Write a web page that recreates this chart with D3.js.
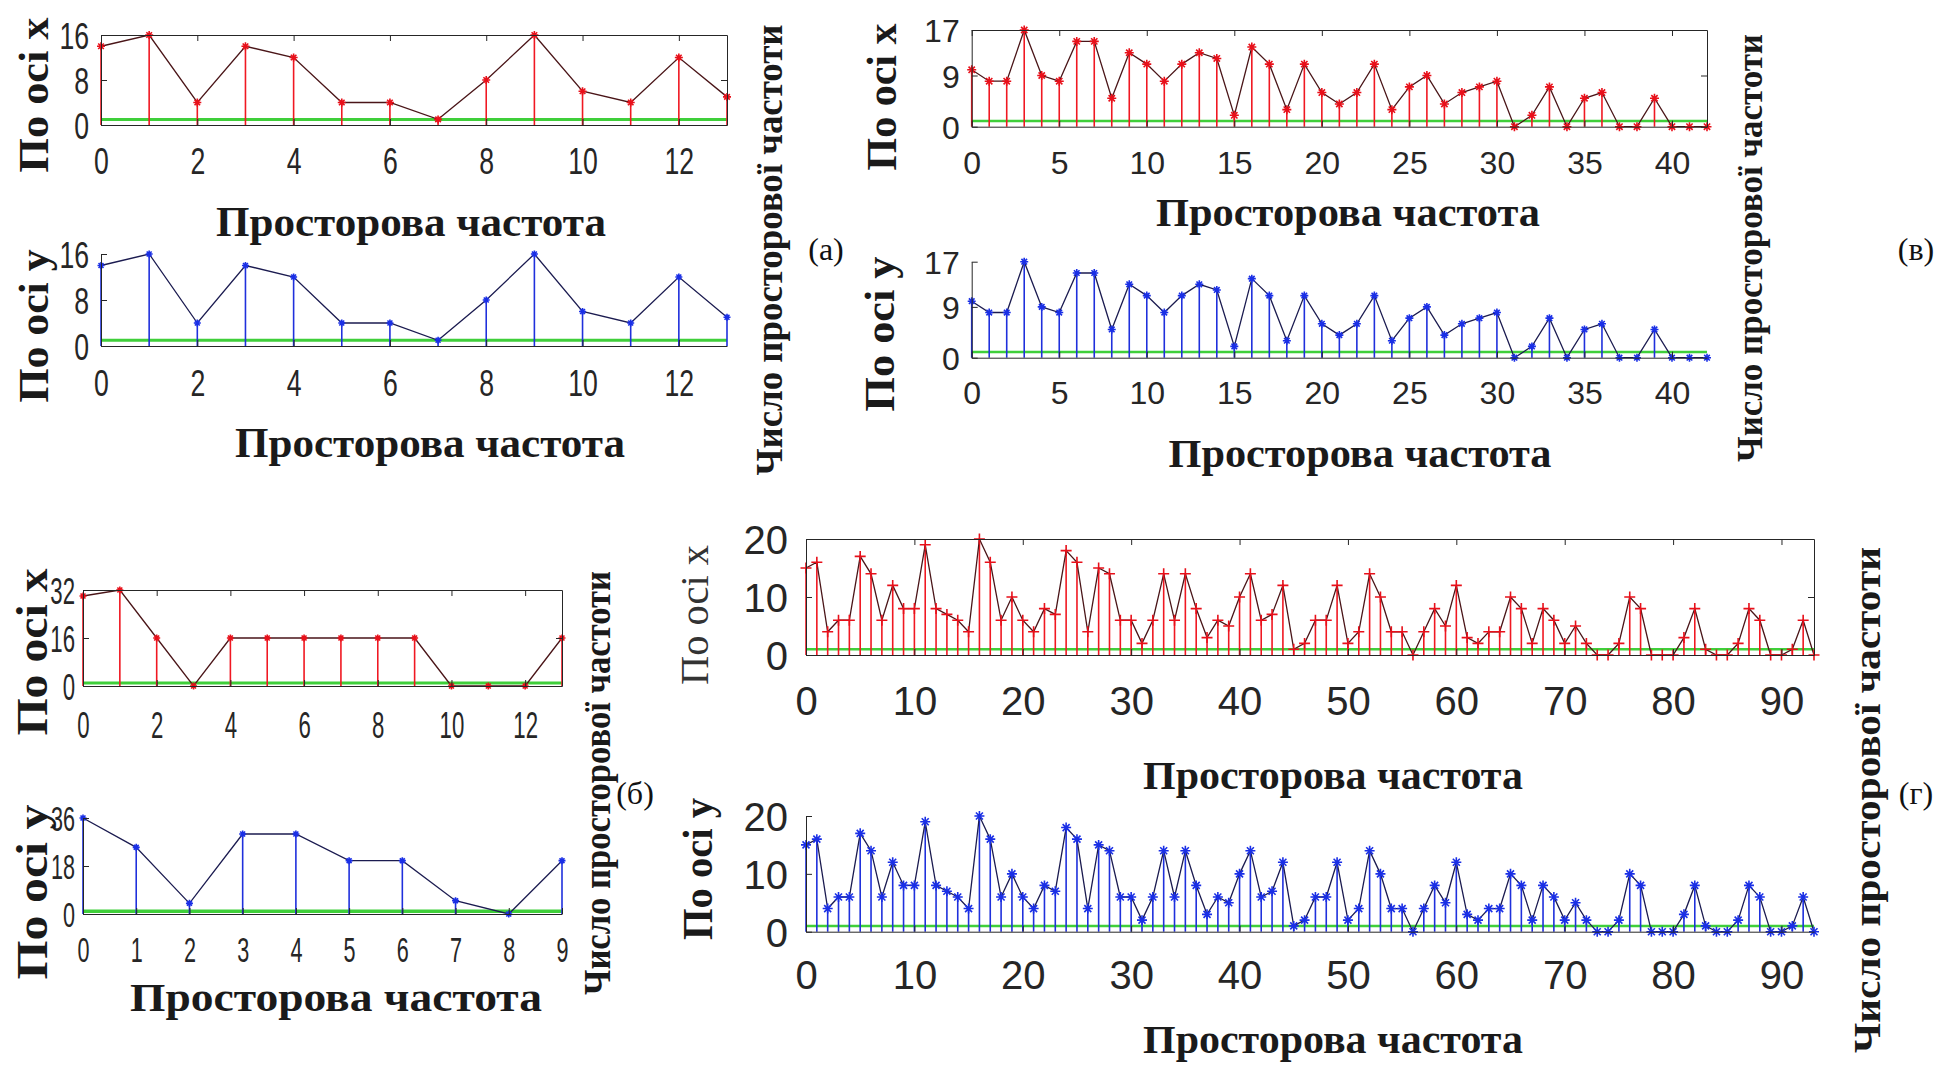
<!DOCTYPE html>
<html>
<head>
<meta charset="utf-8">
<script src="https://cdn.jsdelivr.net/npm/d3@7"></script>
<style>
  html, body { margin: 0; padding: 0; background: #fff; }
  svg { display: block; }
</style>
</head>
<body>
<svg id="fig" width="1939" height="1065"></svg>
<script>
// ---- spectra: number of components per spatial frequency ----
// (а) 14 frequencies
const aSpecX = [14, 16, 4, 14, 12, 4, 4, 1, 8, 16, 6, 4, 12, 5];
const aSpecY = [14, 16, 4, 14, 12, 4, 4, 1, 8, 16, 6, 4, 12, 5];
const aTicksX = [0, 2, 4, 6, 8, 10, 12];
const aTicksY = [0, 8, 16];

// (б) 14 frequencies along x, 10 along y
const bSpecX = [30, 32, 16, 0, 16, 16, 16, 16, 16, 16, 0, 0, 0, 16];
const bSpecY = [36, 25, 4, 30, 30, 20, 20, 5, 0, 20];
const bTicksX1 = [0, 2, 4, 6, 8, 10, 12];
const bTicksX2 = [0, 1, 2, 3, 4, 5, 6, 7, 8, 9];
const bTicksY1 = [0, 16, 32];
const bTicksY2 = [0, 18, 36];

// (в) 43 frequencies
const vSpecX = [10, 8, 8, 17, 9, 8, 15, 15, 5, 13, 11, 8, 11, 13, 12, 2, 14, 11, 3, 11,
                6, 4, 6, 11, 3, 7, 9, 4, 6, 7, 8, 0, 2, 7, 0, 5, 6, 0, 0, 5, 0, 0, 0];
const vSpecY = [10, 8, 8, 17, 9, 8, 15, 15, 5, 13, 11, 8, 11, 13, 12, 2, 14, 11, 3, 11,
                6, 4, 6, 11, 3, 7, 9, 4, 6, 7, 8, 0, 2, 7, 0, 5, 6, 0, 0, 5, 0, 0, 0];
const vTicksX = [0, 5, 10, 15, 20, 25, 30, 35, 40];
const vTicksY = [0, 9, 17];

// (г) 94 frequencies
const gSpecX = [15, 16, 4, 6, 6, 17, 14, 6, 12, 8, 8, 19, 8, 7, 6, 4, 20, 16, 6, 10,
                6, 4, 8, 7, 18, 16, 4, 15, 14, 6, 6, 2, 6, 14, 6, 14, 8, 3, 6, 5,
                10, 14, 6, 7, 12, 1, 2, 6, 6, 12, 2, 4, 14, 10, 4, 4, 0, 4, 8, 5,
                12, 3, 2, 4, 4, 10, 8, 2, 8, 6, 2, 5, 2, 0, 0, 2, 10, 8, 0, 0,
                0, 3, 8, 1, 0, 0, 2, 8, 6, 0, 0, 1, 6, 0];
const gSpecY = [15, 16, 4, 6, 6, 17, 14, 6, 12, 8, 8, 19, 8, 7, 6, 4, 20, 16, 6, 10,
                6, 4, 8, 7, 18, 16, 4, 15, 14, 6, 6, 2, 6, 14, 6, 14, 8, 3, 6, 5,
                10, 14, 6, 7, 12, 1, 2, 6, 6, 12, 2, 4, 14, 10, 4, 4, 0, 4, 8, 5,
                12, 3, 2, 4, 4, 10, 8, 2, 8, 6, 2, 5, 2, 0, 0, 2, 10, 8, 0, 0,
                0, 3, 8, 1, 0, 0, 2, 8, 6, 0, 0, 1, 6, 0];
const gTicksX = [0, 10, 20, 30, 40, 50, 60, 70, 80, 90];
const gTicksY = [0, 10, 20];

// threshold level drawn in green on every panel
const threshold = 1;

// texts
const labelX = "По осі x";
const labelY = "По осі y";
const titleX = "Просторова частота";
const sideTitle = "Число просторової частоти";
const panelLetters = ["(а)", "(б)", "(в)", "(г)"];

// ---- drawing ----
const svg = d3.select("#fig");
const AXIS = "#262626";
const GREEN = "#3fcf3a";
const RED = { stem: "#f01822", line: "#4a1518", mark: "#e8101a" };
const BLUE = { stem: "#1f30dc", line: "#1b1b50", mark: "#1a2fe6" };

function markerPath(kind, r) {
  const p = d3.path();
  p.moveTo(-r, 0); p.lineTo(r, 0);
  p.moveTo(0, -r); p.lineTo(0, r);
  if (kind === "asterisk") {
    const k = r * 0.7;
    p.moveTo(-k, -k); p.lineTo(k, k);
    p.moveTo(-k, k); p.lineTo(k, -k);
  }
  return p.toString();
}

function styleTicks(sel, p) {
  sel.select(".domain").attr("stroke", AXIS).attr("stroke-width", 1);
  sel.selectAll(".tick line").attr("stroke", AXIS).attr("stroke-width", 1);
  sel.selectAll(".tick text")
    .attr("font-family", "'Liberation Sans', Arial, sans-serif")
    .attr("font-size", p.font)
    .attr("fill", AXIS);
}

function panel(p) {
  const g = svg.append("g");
  const x = d3.scaleLinear().domain([0, p.xMax]).range([p.left, p.right]);
  const y = d3.scaleLinear().domain([0, p.yMax]).range([p.bottom, p.top]);
  const col = p.palette;
  const vals = p.values;

  // threshold line
  g.append("line")
    .attr("x1", x(0)).attr("x2", x(p.xMax))
    .attr("y1", y(threshold)).attr("y2", y(threshold))
    .attr("stroke", GREEN).attr("stroke-width", p.gw);

  // stems
  g.append("g").selectAll("line").data(vals).join("line")
    .attr("x1", (d, i) => x(i)).attr("x2", (d, i) => x(i))
    .attr("y1", y(0)).attr("y2", d => y(d))
    .attr("stroke", col.stem).attr("stroke-width", 1.6);

  // connecting polyline
  g.append("path").datum(vals)
    .attr("d", d3.line().x((d, i) => x(i)).y(d => y(d)))
    .attr("fill", "none").attr("stroke", col.line).attr("stroke-width", 1.3);

  // markers
  g.append("g").selectAll("path").data(vals).join("path")
    .attr("transform", (d, i) => `translate(${x(i)},${y(d)})`)
    .attr("d", markerPath(p.marker, p.mr))
    .attr("fill", "none").attr("stroke", col.mark).attr("stroke-width", 1.6);

  // bottom axis
  const xa = g.append("g").attr("transform", `translate(0,${y(0)})`)
    .call(d3.axisBottom(x).tickValues(p.xTicks).tickSizeInner(-6).tickSizeOuter(0));
  styleTicks(xa, p);
  xa.selectAll(".tick text").attr("y", p.xLabOff).attr("dy", "0.36em")
    .attr("transform", `scale(${p.sx},1)`);

  // left axis
  const ya = g.append("g").attr("transform", `translate(${x(0)},0)`)
    .call(d3.axisLeft(y).tickValues(p.yTicks).tickSizeInner(-6).tickSizeOuter(0));
  styleTicks(ya, p);
  ya.selectAll(".tick text").attr("x", -p.yLabPad / p.sx).attr("dy", "0.36em")
    .attr("transform", `scale(${p.sx},1)`);

  if (p.box) {
    const ta = g.append("g").attr("transform", `translate(0,${y(p.yMax)})`)
      .call(d3.axisTop(x).tickValues(p.xTicks).tickSizeInner(-6).tickSizeOuter(0).tickFormat(""));
    styleTicks(ta, p);
    const ra = g.append("g").attr("transform", `translate(${x(p.xMax)},0)`)
      .call(d3.axisRight(y).tickValues(p.yTicks).tickSizeInner(-6).tickSizeOuter(0).tickFormat(""));
    styleTicks(ra, p);
  }

  // rotated axis name
  g.append("text")
    .attr("transform", `translate(${p.yName.cx},${p.yName.cy}) rotate(-90)`)
    .attr("text-anchor", "middle").attr("dominant-baseline", "central")
    .attr("font-family", "'Liberation Serif', 'Times New Roman', serif")
    .attr("font-weight", p.yName.weight || "bold")
    .attr("font-size", p.yName.size)
    .attr("fill", p.yName.fill || "#1a1a1a")
    .attr("textLength", p.yName.len).attr("lengthAdjust", "spacingAndGlyphs")
    .text(p.yName.text);

  // horizontal axis title
  if (p.title) {
    g.append("text")
      .attr("x", p.title.cx).attr("y", p.title.y)
      .attr("text-anchor", "middle")
      .attr("font-family", "'Liberation Serif', 'Times New Roman', serif")
      .attr("font-weight", "bold").attr("font-size", p.title.size)
      .attr("fill", "#1a1a1a")
      .attr("textLength", p.title.len).attr("lengthAdjust", "spacingAndGlyphs")
      .text(titleX);
  }
}

// (а)
panel({ values: aSpecX, palette: RED, marker: "asterisk", mr: 4, gw: 3,
  left: 101, right: 727, top: 35, bottom: 125, xMax: 13, yMax: 16,
  xTicks: aTicksX, yTicks: aTicksY, box: true, font: 37, sx: 0.72, xLabOff: 36, yLabPad: 12,
  yName: { text: labelX, cx: 34, cy: 95, len: 155, size: 42 },
  title: { cx: 411, y: 236, len: 390, size: 42 } });
panel({ values: aSpecY, palette: BLUE, marker: "asterisk", mr: 3.5, gw: 3,
  left: 101, right: 727, top: 254, bottom: 346, xMax: 13, yMax: 16,
  xTicks: aTicksX, yTicks: aTicksY, box: false, font: 37, sx: 0.72, xLabOff: 37, yLabPad: 12,
  yName: { text: labelY, cx: 34, cy: 326, len: 153, size: 42 },
  title: { cx: 430, y: 457, len: 390, size: 42 } });

// (в)
panel({ values: vSpecX, palette: RED, marker: "asterisk", mr: 4.5, gw: 2.5,
  left: 971.7, right: 1707, top: 30, bottom: 126.7, xMax: 42, yMax: 17,
  xTicks: vTicksX, yTicks: vTicksY, box: true, font: 32, sx: 1, xLabOff: 36, yLabPad: 12,
  yName: { text: labelX, cx: 882, cy: 97, len: 147, size: 42 },
  title: { cx: 1348, y: 226, len: 384, size: 40 } });
panel({ values: vSpecY, palette: BLUE, marker: "asterisk", mr: 4, gw: 2.5,
  left: 971.7, right: 1707, top: 261.7, bottom: 357.7, xMax: 42, yMax: 17,
  xTicks: vTicksX, yTicks: vTicksY, box: false, font: 32, sx: 1, xLabOff: 35, yLabPad: 12,
  yName: { text: labelY, cx: 880, cy: 334, len: 155, size: 42 },
  title: { cx: 1360, y: 467, len: 383, size: 40 } });

// (б)
panel({ values: bSpecX, palette: RED, marker: "asterisk", mr: 3.5, gw: 3,
  left: 83, right: 562, top: 590, bottom: 686, xMax: 13, yMax: 32,
  xTicks: bTicksX1, yTicks: bTicksY1, box: true, font: 37, sx: 0.6, xLabOff: 39, yLabPad: 8,
  yName: { text: labelX, cx: 32, cy: 652, len: 167, size: 44 } });
panel({ values: bSpecY, palette: BLUE, marker: "asterisk", mr: 3.5, gw: 3.5,
  left: 83, right: 562, top: 818, bottom: 914, xMax: 9, yMax: 36,
  xTicks: bTicksX2, yTicks: bTicksY2, box: false, font: 36, sx: 0.6, xLabOff: 35, yLabPad: 8,
  yName: { text: labelY, cx: 32, cy: 892, len: 175, size: 44 },
  title: { cx: 336, y: 1011, len: 412, size: 40 } });

// (г)
panel({ values: gSpecX, palette: RED, marker: "plus", mr: 5.5, gw: 2.5,
  left: 806, right: 1814, top: 539, bottom: 655, xMax: 93, yMax: 20,
  xTicks: gTicksX, yTicks: gTicksY, box: true, font: 40, sx: 1, xLabOff: 46, yLabPad: 18,
  yName: { text: labelX, cx: 694, cy: 615, len: 140, size: 40, weight: "normal", fill: "#333" },
  title: { cx: 1333, y: 789, len: 380, size: 40 } });
panel({ values: gSpecY, palette: BLUE, marker: "asterisk", mr: 5, gw: 2.5,
  left: 806, right: 1814, top: 816, bottom: 931.7, xMax: 93, yMax: 20,
  xTicks: gTicksX, yTicks: gTicksY, box: false, font: 40, sx: 1, xLabOff: 43, yLabPad: 18,
  yName: { text: labelY, cx: 698, cy: 869, len: 142, size: 42 },
  title: { cx: 1333, y: 1053, len: 380, size: 40 } });

// vertical side titles
const sides = [
  { cx: 769, cy: 250, len: 451, size: 38 },
  { cx: 1750, cy: 248, len: 428, size: 36 },
  { cx: 597, cy: 783, len: 424, size: 38 },
  { cx: 1867, cy: 800, len: 506, size: 38 }
];
svg.append("g").selectAll("text").data(sides).join("text")
  .attr("transform", d => `translate(${d.cx},${d.cy}) rotate(-90)`)
  .attr("text-anchor", "middle").attr("dominant-baseline", "central")
  .attr("font-family", "'Liberation Serif', 'Times New Roman', serif")
  .attr("font-weight", "bold").attr("font-size", d => d.size).attr("fill", "#1a1a1a")
  .attr("textLength", d => d.len).attr("lengthAdjust", "spacingAndGlyphs")
  .text(sideTitle);

// panel letters
const letterPos = [
  { cx: 826, cy: 249 },
  { cx: 635, cy: 793 },
  { cx: 1916, cy: 249 },
  { cx: 1916, cy: 793 }
];
svg.append("g").selectAll("text").data(panelLetters).join("text")
  .attr("x", (d, i) => letterPos[i].cx).attr("y", (d, i) => letterPos[i].cy)
  .attr("text-anchor", "middle").attr("dominant-baseline", "central")
  .attr("font-family", "'Liberation Serif', 'Times New Roman', serif")
  .attr("font-size", 32).attr("fill", "#111")
  .text(d => d);
</script>
</body>
</html>
